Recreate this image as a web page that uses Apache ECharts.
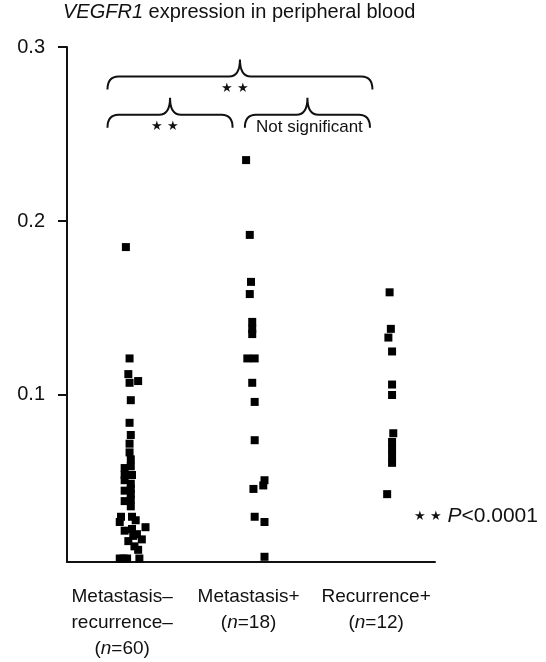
<!DOCTYPE html>
<html>
<head>
<meta charset="utf-8">
<script src="https://cdn.jsdelivr.net/npm/echarts@6/dist/echarts.min.js"></script>
<style>
  html, body { margin: 0; padding: 0; background: #fff; }
  #chart { width: 546px; height: 662px; }
</style>
</head>
<body>
<div id="chart"></div>
<script>
var chart = echarts.init(document.getElementById('chart'));

// groups on the x axis (centres at 0.5, 1.5, 2.5)
var categories = ['Metastasis–\nrecurrence–', 'Metastasis+', 'Recurrence+'];
var counts = [60, 18, 12];
var groupCenters = [0.5, 1.5, 2.5];
var labelPositions = [0.45, 1.48, 2.52];
var yTicks = [0.1, 0.2, 0.3];

// [jitter offset from group centre, VEGFR1 expression]
var metNeg = [
    [-0.02, 0.185], [0.01, 0.121], [0.00, 0.112], [0.01, 0.107], [0.08, 0.108],
    [0.02, 0.097], [0.01, 0.084], [0.02, 0.077], [0.01, 0.067], [0.02, 0.063],
    [0.02, 0.059], [-0.03, 0.058], [-0.03, 0.054], [0.03, 0.054], [-0.03, 0.051],
    [0.02, 0.049], [0.02, 0.046], [0.02, 0.043], [0.02, 0.040], [-0.03, 0.039],
    [0.02, 0.036], [-0.07, 0.027], [0.03, 0.030], [0.06, 0.028], [-0.03, 0.022],
    [0.03, 0.023], [0.14, 0.024], [0.11, 0.017], [0.00, 0.016], [0.05, 0.013],
    [0.08, 0.011], [-0.07, 0.006], [-0.04, 0.006], [-0.01, 0.006], [0.09, 0.006],
    [0.04, 0.019], [0.07, 0.020], [-0.06, 0.030], [-0.03, 0.045], [0.01, 0.072]
];
var metPos = [
    [-0.04, 0.235], [-0.01, 0.192], [0.00, 0.165], [-0.01, 0.158], [0.01, 0.142],
    [0.01, 0.138], [0.01, 0.135], [-0.03, 0.121], [0.03, 0.121], [0.01, 0.107],
    [0.03, 0.096], [0.03, 0.074], [0.11, 0.051], [0.10, 0.048], [0.02, 0.046],
    [0.03, 0.030], [0.11, 0.027], [0.11, 0.007]
];
var recPos = [
    [0.13, 0.159], [0.14, 0.138], [0.12, 0.133], [0.15, 0.125], [0.15, 0.106],
    [0.15, 0.100], [0.16, 0.078], [0.15, 0.073], [0.15, 0.069], [0.15, 0.065],
    [0.15, 0.061], [0.11, 0.043]
];

// comparison braces: [x from, x to, level]
var braces = [
    [0.33, 2.49, 0.283],
    [0.33, 1.35, 0.261],
    [1.45, 2.47, 0.261]
];
var braceLabels = ['★ ★', '★ ★', 'Not significant'];

var font = 'Liberation Sans, Arial, Helvetica, sans-serif';

function place(group, gi) {
    return group.map(function (p) {
        return [groupCenters[gi] + p[0], p[1]];
    });
}

function renderBrace(params, api) {
    var a = api.coord([api.value(0), api.value(2)]);
    var b = api.coord([api.value(1), api.value(2)]);
    var x1 = a[0], x2 = b[0], y = a[1];
    var xc = (x1 + x2) / 2;
    var h1 = 13, h2 = 17, r = 11;
    var d = 'M' + x1 + ' ' + (y + h1) +
        ' Q' + x1 + ' ' + y + ' ' + (x1 + r) + ' ' + y +
        ' L' + (xc - r) + ' ' + y +
        ' Q' + xc + ' ' + y + ' ' + xc + ' ' + (y - h2) +
        ' Q' + xc + ' ' + y + ' ' + (xc + r) + ' ' + y +
        ' L' + (x2 - r) + ' ' + y +
        ' Q' + x2 + ' ' + y + ' ' + x2 + ' ' + (y + h1);
    var label = braceLabels[params.dataIndex];
    var isStars = label.indexOf('★') >= 0;
    return {
        type: 'group',
        children: [
            {
                type: 'path',
                shape: { pathData: d },
                style: { stroke: '#111', fill: null, lineWidth: 2 }
            },
            {
                type: 'text',
                style: {
                    text: label,
                    x: xc + (isStars ? -5 : 2),
                    y: y + 12,
                    fill: '#111',
                    fontSize: isStars ? 13 : 17,
                    fontFamily: font,
                    align: 'center',
                    verticalAlign: 'middle'
                }
            }
        ]
    };
}

var pointStyle = { color: '#000', opacity: 1 };

option = {
    backgroundColor: '#fff',
    animation: false,
    title: {
        text: '{i|VEGFR1} expression in peripheral blood',
        left: 63,
        top: 2,
        padding: 0,
        textStyle: {
            fontFamily: font,
            fontSize: 20,
            fontWeight: 'normal',
            color: '#111',
            rich: {
                i: { fontFamily: font, fontSize: 20, fontStyle: 'italic', color: '#111' }
            }
        }
    },
    grid: {
        left: 67,
        right: 111,
        top: 47,
        bottom: 97,
        containLabel: false
    },
    xAxis: {
        type: 'value',
        min: 0,
        max: 3,
        splitLine: { show: false },
        axisTick: { show: false },
        axisLine: { lineStyle: { color: '#111', width: 2 } },
        axisLabel: {
            customValues: labelPositions,
            margin: 22,
            fontFamily: font,
            fontSize: 19,
            lineHeight: 26,
            color: '#111',
            align: 'center',
            formatter: function (v) {
                var i = labelPositions.indexOf(v);
                if (i < 0) return '';
                return categories[i] + '\n({i|n}=' + counts[i] + ')';
            },
            rich: {
                i: { fontFamily: font, fontSize: 19, fontStyle: 'italic', color: '#111', lineHeight: 26 }
            }
        }
    },
    yAxis: {
        type: 'value',
        min: 0.004,
        max: 0.3,
        splitLine: { show: false },
        axisLine: { show: true, lineStyle: { color: '#111', width: 2 } },
        axisTick: {
            show: true,
            customValues: yTicks,
            length: 9,
            lineStyle: { color: '#111', width: 2 }
        },
        axisLabel: {
            customValues: yTicks,
            margin: 22,
            fontFamily: font,
            fontSize: 20,
            color: '#111',
            formatter: function (v) { return v.toFixed(1); }
        }
    },
    graphic: [
        {
            type: 'text',
            left: 414,
            top: 506,
            style: {
                text: '{s|★ ★} {i|P}<0.0001',
                fontFamily: font,
                fontSize: 21,
                fill: '#111',
                rich: {
                    s: { fontSize: 13, fill: '#111' },
                    i: { fontFamily: font, fontSize: 21, fontStyle: 'italic', fill: '#111' }
                }
            }
        }
    ],
    series: [
        {
            name: categories[0],
            type: 'scatter',
            symbol: 'rect',
            symbolSize: 8,
            itemStyle: pointStyle,
            data: place(metNeg, 0)
        },
        {
            name: categories[1],
            type: 'scatter',
            symbol: 'rect',
            symbolSize: 8,
            itemStyle: pointStyle,
            data: place(metPos, 1)
        },
        {
            name: categories[2],
            type: 'scatter',
            symbol: 'rect',
            symbolSize: 8,
            itemStyle: pointStyle,
            data: place(recPos, 2)
        },
        {
            name: 'braces',
            type: 'custom',
            renderItem: renderBrace,
            clip: false,
            encode: { x: [0, 1], y: 2 },
            data: braces,
            silent: true
        }
    ]
};

chart.setOption(option);
</script>
</body>
</html>
